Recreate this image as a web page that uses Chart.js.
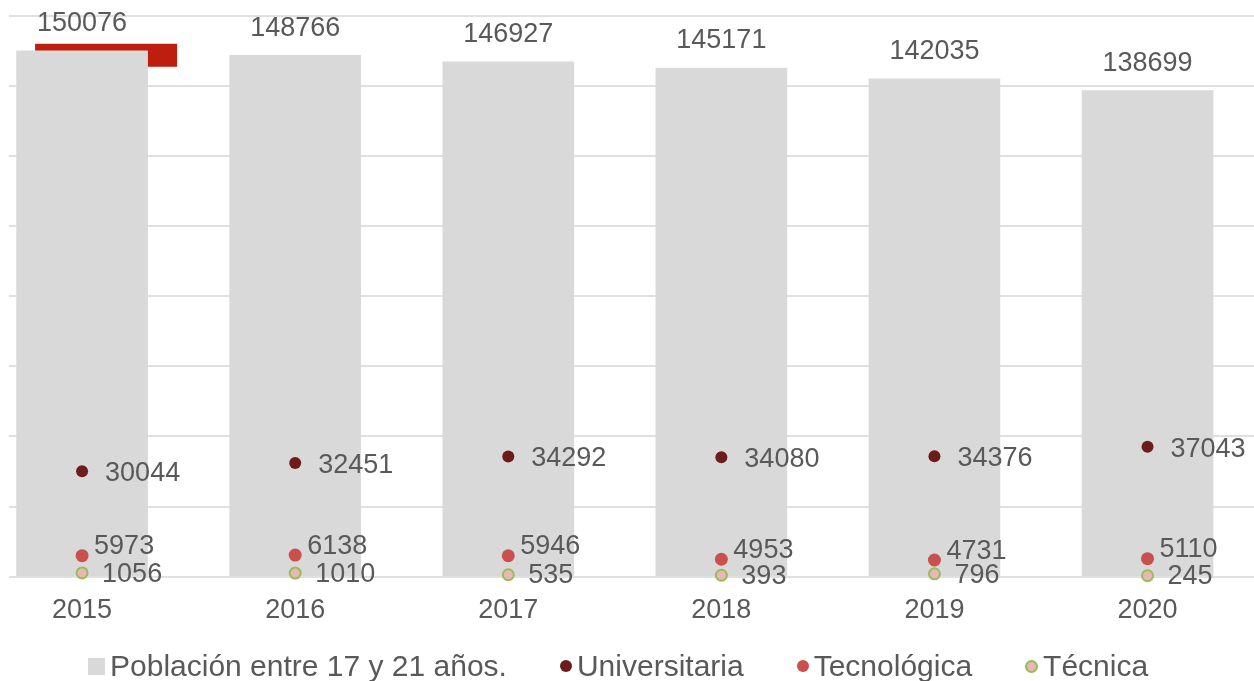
<!DOCTYPE html>
<html><head><meta charset="utf-8">
<script src="https://cdn.jsdelivr.net/npm/chart.js@4.4.1/dist/chart.umd.min.js"></script>
<style>
html,body{margin:0;padding:0;background:#fff;overflow:hidden;}
#wrap{position:relative;width:1254px;height:681px;overflow:hidden;}
#c{position:absolute;left:0;top:0;}
#legend{position:absolute;left:88px;top:651px;height:30px;display:flex;align-items:center;font-family:'Liberation Sans',Arial,sans-serif;font-size:30px;line-height:30px;color:#595959;white-space:nowrap;}
.item{display:flex;align-items:center;margin-right:53px;}
.item:last-child{margin-right:0}
.mk{display:inline-block;margin-right:5px;flex:none;box-sizing:border-box}
.sq{width:17px;height:17px;background:#D9D9D9}
.dot{width:12px;height:12px;border-radius:50%}
</style></head>
<body><div id="wrap"><canvas id="c" width="1262" height="681"></canvas><div id="legend"></div></div>
<script>
const categories = ['2015', '2016', '2017', '2018', '2019', '2020'];
const seriesNames = ['Población entre 17 y 21 años.', 'Universitaria', 'Tecnológica', 'Técnica'];
const poblacion = [150076, 148766, 146927, 145171, 142035, 138699];
const universitaria = [30044, 32451, 34292, 34080, 34376, 37043];
const tecnologica = [5973, 6138, 5946, 4953, 4731, 5110];
const tecnica = [1056, 1010, 535, 393, 796, 245];
const yMax = 160000;
const yStep = 20000;

const TEXT = '#595959';
const FONT = '"Liberation Sans", Arial, sans-serif';

const toXY = arr => categories.map((c, i) => ({ x: Number(c), y: arr[i] }));

// label offsets per series (dx, baseline dy, alignment)
const labelStyle = [
  { dx: 0, dy: -19.5, align: 'center' },
  { dx: 23, dy: 10, align: 'left' },
  { dx: 12, dy: -1.5, align: 'left' },
  { dx: 20, dy: 8.7, align: 'left' }
];

const valueLabels = {
  id: 'valueLabels',
  afterDatasetsDraw(chart) {
    const ctx = chart.ctx;
    ctx.save();
    ctx.font = '27px ' + FONT;
    ctx.fillStyle = TEXT;
    ctx.textBaseline = 'alphabetic';
    chart.data.datasets.forEach((ds, di) => {
      const meta = chart.getDatasetMeta(di);
      const st = labelStyle[di];
      ctx.textAlign = st.align;
      meta.data.forEach((el, i) => {
        ctx.fillText(String(ds.data[i].y), el.x + st.dx, el.y + st.dy);
      });
    });
    ctx.restore();
  }
};

const redMark = {
  id: 'redMark',
  beforeDatasetsDraw(chart) {
    const el = chart.getDatasetMeta(0).data[0];
    if (!el) return;
    const ctx = chart.ctx;
    ctx.save();
    ctx.fillStyle = '#BE1E0E';
    ctx.fillRect(el.x - 47, el.y - 7, 142, 23);
    ctx.restore();
  }
};

new Chart(document.getElementById('c'), {
  type: 'bar',
  data: {
    datasets: [
      { type: 'bar', label: seriesNames[0], data: toXY(poblacion), backgroundColor: '#D9D9D9', barThickness: 131, order: 10 },
      { type: 'line', label: seriesNames[1], data: toXY(universitaria), showLine: false, pointRadius: 6, pointBackgroundColor: '#6B1C1B', pointBorderColor: '#6B1C1B', pointBorderWidth: 0, order: 3, clip: false },
      { type: 'line', label: seriesNames[2], data: toXY(tecnologica), showLine: false, pointRadius: 6.5, pointBackgroundColor: '#C9504D', pointBorderColor: '#C9504D', pointBorderWidth: 0, order: 2, clip: false },
      { type: 'line', label: seriesNames[3], data: toXY(tecnica), showLine: false, pointRadius: 5.5, pointBackgroundColor: '#E8B8B7', pointBorderColor: '#9BBB59', pointBorderWidth: 2, order: 1, clip: false }
    ]
  },
  options: {
    responsive: false,
    animation: false,
    events: [],
    layout: { padding: { left: 9, right: 0, top: 16, bottom: 44 } },
    plugins: { legend: { display: false }, tooltip: { enabled: false } },
    scales: {
      x: {
        type: 'linear', offset: false, min: 2014.657, max: 2020.502,
        grid: { display: false }, border: { display: false },
        afterBuildTicks: s => { s.ticks = categories.map(c => ({ value: Number(c) })); },
        ticks: { padding: 10, color: TEXT, font: { family: FONT, size: 27 }, autoSkip: false, maxRotation: 0,
          callback: v => categories.find(c => Number(c) === v) || '' }
      },
      y: {
        min: 0, max: yMax,
        ticks: { display: false, stepSize: yStep },
        grid: { color: '#E0E0E0', lineWidth: 2, drawTicks: false },
        border: { display: false }
      }
    }
  },
  plugins: [redMark, valueLabels]
});

// HTML legend
const legendEl = document.getElementById('legend');
const markers = [
  'class="mk sq"',
  'class="mk dot" style="background:#6B1C1B"',
  'class="mk dot" style="background:#C9504D"',
  'class="mk dot" style="background:#E8B8B7;border:2px solid #9BBB59;width:13px;height:13px"'
];
seriesNames.forEach((n, i) => {
  const it = document.createElement('span');
  it.className = 'item';
  it.innerHTML = '<span ' + markers[i] + '></span><span>' + n + '</span>';
  legendEl.appendChild(it);
});
</script>
</body></html>
